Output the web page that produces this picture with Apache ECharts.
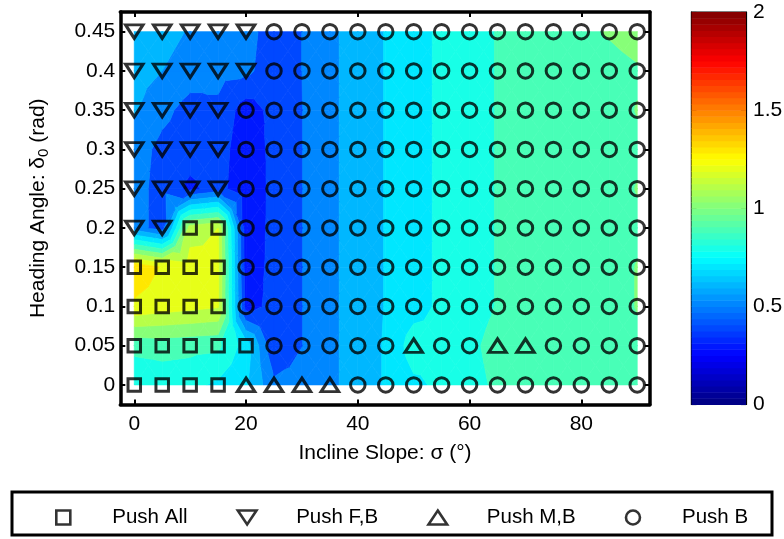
<!DOCTYPE html>
<html><head><meta charset="utf-8">
<script src="https://cdn.jsdelivr.net/npm/echarts@6/dist/echarts.min.js"></script>
<style>html,body{margin:0;padding:0;background:#fff}#c{width:784px;height:539px}</style>
</head><body><div id="c"></div>
<script>
// ---- data ----
const sigma = [0,5,10,15,20,25,30,35,40,45,50,55,60,65,70,75,80,85,90];
const delta = [0,0.05,0.1,0.15,0.2,0.25,0.3,0.35,0.4,0.45];
const xTicks = [0,20,40,60,80];
const yTicks = [0,0.05,0.1,0.15,0.2,0.25,0.3,0.35,0.4,0.45];
const cbarTicks = [0,0.5,1,1.5,2];

// surface value at each (sigma, delta) node, one array per delta row
const z_000 = [0.82,0.84,0.83,0.78,0.72,0.52,0.54,0.58,0.64,0.71,0.78,0.82,0.87,0.915,0.92,0.93,0.94,0.95,0.97];
const z_005 = [0.93,0.94,0.93,0.92,0.75,0.42,0.498,0.58,0.64,0.71,0.85,0.83,0.88,0.93,0.93,0.93,0.94,0.95,0.975];
const z_010 = [1.28,1.25,1.23,1.21,0.36,0.43,0.498,0.58,0.64,0.705,0.76,0.82,0.86,0.905,0.92,0.93,0.94,0.95,1.005];
const z_015 = [1.38,1.29,1.25,1.22,0.34,0.43,0.498,0.58,0.64,0.705,0.76,0.82,0.86,0.905,0.92,0.93,0.94,0.95,1.005];
const z_020 = [0.55,0.45,1.15,1.2,0.33,0.43,0.498,0.58,0.64,0.705,0.76,0.82,0.86,0.905,0.92,0.93,0.94,0.95,0.975];
const z_025 = [0.54,0.46,0.38,0.44,0.32,0.43,0.498,0.58,0.64,0.705,0.76,0.82,0.86,0.905,0.92,0.93,0.94,0.95,1.005];
const z_030 = [0.55,0.47,0.44,0.45,0.33,0.43,0.498,0.58,0.64,0.705,0.76,0.82,0.86,0.905,0.92,0.93,0.94,0.95,0.975];
const z_035 = [0.61,0.53,0.46,0.48,0.35,0.43,0.498,0.58,0.64,0.705,0.76,0.82,0.86,0.905,0.92,0.93,0.94,0.95,1.005];
const z_040 = [0.64,0.6,0.55,0.53,0.52,0.45,0.5,0.58,0.64,0.705,0.76,0.82,0.86,0.905,0.92,0.93,0.94,0.95,0.985];
const z_045 = [0.67,0.64,0.59,0.55,0.53,0.46,0.5,0.58,0.64,0.705,0.76,0.82,0.86,0.905,0.92,0.93,0.96,1.013,1.06];
const zRows = [z_000,z_005,z_010,z_015,z_020,z_025,z_030,z_035,z_040,z_045];

// strategy at each node: S = Push All, V = Push F,B, A = Push M,B, O = Push B
const m_000 = "SSSSAAAAOOOOOOOOOOO";
const m_005 = "SSSSSOOOOOAOOAAOOOO";
const m_010 = "SSSSOOOOOOOOOOOOOOO";
const m_015 = "SSSSOOOOOOOOOOOOOOO";
const m_020 = "VVSSOOOOOOOOOOOOOOO";
const m_025 = "VVVVOOOOOOOOOOOOOOO";
const m_030 = "VVVVOOOOOOOOOOOOOOO";
const m_035 = "VVVVOOOOOOOOOOOOOOO";
const m_040 = "VVVVVOOOOOOOOOOOOOO";
const m_045 = "VVVVVOOOOOOOOOOOOOO";
const markerRows = [m_000,m_005,m_010,m_015,m_020,m_025,m_030,m_035,m_040,m_045];

const strategyNames = {S:'Push All', V:'Push F,B', A:'Push M,B', O:'Push B'};
const levelStep = 0.1;
const cmin = 0, cmax = 2;

// ---- helpers ----
const FONT = 'Liberation Sans, Arial, Helvetica, sans-serif';
function jet(t){
  const c = v => Math.max(0, Math.min(1, v));
  const r = c(1.5 - Math.abs(4*t - 3)), g = c(1.5 - Math.abs(4*t - 2)), b = c(1.5 - Math.abs(4*t - 1));
  return 'rgb(' + Math.round(r*255) + ',' + Math.round(g*255) + ',' + Math.round(b*255) + ')';
}
function jet64(v){
  let idx = Math.floor((v - cmin)/(cmax - cmin)*64 + 1e-9);
  idx = Math.max(0, Math.min(63, idx));
  return jet((idx + 0.5)/64);
}
function clip(poly, level, above){
  const out = [];
  for (let i = 0; i < poly.length; i++){
    const a = poly[i], b = poly[(i+1) % poly.length];
    const ia = above ? a[2] >= level : a[2] <= level;
    const ib = above ? b[2] >= level : b[2] <= level;
    if (ia) out.push(a);
    if (ia !== ib){
      const t = (level - a[2])/(b[2] - a[2]);
      out.push([a[0] + t*(b[0]-a[0]), a[1] + t*(b[1]-a[1]), level]);
    }
  }
  return out;
}

// cells of the grid (corner values from zRows)
const cells = [];
for (let j = 0; j < delta.length - 1; j++){
  for (let i = 0; i < sigma.length - 1; i++){
    cells.push([sigma[i], delta[j], sigma[i+1], delta[j+1],
      zRows[j][i], zRows[j][i+1], zRows[j+1][i], zRows[j+1][i+1]]);
  }
}

function renderContour(params, api){
  const x0 = api.value(0), y0 = api.value(1), x1 = api.value(2), y1 = api.value(3);
  const v00 = api.value(4), v10 = api.value(5), v01 = api.value(6), v11 = api.value(7);
  const p00 = [x0,y0,v00], p10 = [x1,y0,v10], p01 = [x0,y1,v01], p11 = [x1,y1,v11];
  const pc = [(x0+x1)/2, (y0+y1)/2, (v00+v10+v01+v11)/4];
  const tris = [[p00,p10,pc],[p10,p11,pc],[p11,p01,pc],[p01,p00,pc]];
  const children = [];
  tris.forEach(tri => {
    const vs = tri.map(p => p[2]);
    const kmin = Math.floor(Math.min.apply(null, vs)/levelStep + 1e-9);
    const kmax = Math.floor(Math.max.apply(null, vs)/levelStep + 1e-9);
    for (let k = kmin; k <= kmax; k++){
      const L = k*levelStep;
      let poly = clip(tri, L, true);
      if (poly.length < 3) continue;
      poly = clip(poly, L + levelStep, false);
      if (poly.length < 3) continue;
      const col = jet64(L + 1e-6);
      children.push({type:'polygon', shape:{points: poly.map(p => api.coord([p[0], p[1]]))},
        style:{fill: col, stroke: col, lineWidth: 0.7}, silent:true});
    }
  });
  return {type:'group', children};
}

// colorbar steps
const cbarSteps = [];
for (let i = 0; i < 64; i++) cbarSteps.push([0, cmin + i*(cmax-cmin)/64, 1, cmin + (i+1)*(cmax-cmin)/64, i]);
function renderCbar(params, api){
  const a = api.coord([api.value(0), api.value(3)]);
  const b = api.coord([api.value(2), api.value(1)]);
  const col = jet((api.value(4) + 0.5)/64);
  return {type:'rect', shape:{x:a[0], y:a[1], width:b[0]-a[0], height:b[1]-a[1]+0.5},
    style:{fill: col, stroke: null}, silent:true};
}

// marker series data
const pts = {S:[], V:[], A:[], O:[]};
markerRows.forEach((row, j) => {
  for (let i = 0; i < row.length; i++) pts[row[i]].push([sigma[i], delta[j]]);
});
const hollow = {color:'rgba(0,0,0,0)', borderColor:'#000', borderWidth:3};

const tickStyle = {color:'#000', width:2};
const axisLineStyle = {color:'#000', width:3.5};
const labelStyle = {color:'#000', fontSize:21, fontFamily:FONT};
const squareIcon = 'path://M0,0L10,0L10,10L0,10Z';
const downTri = 'path://M0,0L20,0L10,15Z';
const upTri = 'path://M10,0L20,15L0,15Z';

const option = {
  animation:false,
  backgroundColor:'#fff',
  grid:[
    {left:120.3, top:12, width:529.5, height:392.5, show:false, outerBoundsMode:'none'},
    {left:691.5, top:12, width:54.5, height:392.5, show:true, borderColor:'#000', borderWidth:1.2, backgroundColor:'transparent', outerBoundsMode:'none'}
  ],
  xAxis:[
    {gridIndex:0, type:'value', min:-2.5, max:92.25, position:'bottom',
     axisLine:{show:true, onZero:false, lineStyle:axisLineStyle},
     axisTick:{show:true, inside:true, length:5, customValues:xTicks, lineStyle:tickStyle},
     axisLabel:{show:true, customValues:xTicks, margin:9, ...labelStyle},
     splitLine:{show:false},
     name:'Incline Slope: σ (°)', nameLocation:'middle', nameGap:38,
     nameTextStyle:{color:'#000', fontSize:21, fontFamily:FONT}},
    {gridIndex:0, type:'value', min:-2.5, max:92.25, position:'top',
     axisLine:{show:true, onZero:false, lineStyle:axisLineStyle},
     axisTick:{show:true, inside:true, length:5, customValues:xTicks, lineStyle:tickStyle},
     axisLabel:{show:false}, splitLine:{show:false}},
    {gridIndex:1, type:'value', min:0, max:1, show:false}
  ],
  yAxis:[
    {gridIndex:0, type:'value', min:-0.025, max:0.475, position:'left',
     axisLine:{show:true, onZero:false, lineStyle:axisLineStyle},
     axisTick:{show:true, inside:true, length:5, customValues:yTicks, lineStyle:tickStyle},
     axisLabel:{show:true, customValues:yTicks, margin:5, formatter: v => String(v), ...labelStyle},
     splitLine:{show:false},
     name:'{a|Heading Angle: δ}{sub|0}{a| (rad)}', nameLocation:'middle', nameGap:70, nameRotate:90,
     nameTextStyle:{color:'#000', fontSize:21, fontFamily:FONT,
       rich:{a:{fontSize:21, lineHeight:24, verticalAlign:'middle', color:'#000', fontFamily:FONT},
             sub:{fontSize:15, lineHeight:15, padding:[10,0,0,0], verticalAlign:'top', color:'#000', fontFamily:FONT}}}},
    {gridIndex:0, type:'value', min:-0.025, max:0.475, position:'right',
     axisLine:{show:true, onZero:false, lineStyle:axisLineStyle},
     axisTick:{show:true, inside:true, length:5, customValues:yTicks, lineStyle:tickStyle},
     axisLabel:{show:false}, splitLine:{show:false}},
    {gridIndex:1, type:'value', min:0, max:2, interval:0.5, position:'right',
     axisLine:{show:true, onZero:false, lineStyle:{color:'#000', width:1.2}},
     axisTick:{show:true, inside:true, length:5, lineStyle:{color:'#000', width:1.2}},
     axisLabel:{show:true, margin:7, formatter: v => String(v), ...labelStyle},
     splitLine:{show:false}},
    {gridIndex:1, type:'value', min:0, max:2, interval:0.5, position:'left',
     axisLine:{show:true, onZero:false, lineStyle:{color:'#000', width:1.2}},
     axisTick:{show:true, inside:true, length:5, lineStyle:{color:'#000', width:1.2}},
     axisLabel:{show:false}, splitLine:{show:false}}
  ],
  legend:{
    show:true, left:55, top:507, orient:'horizontal', padding:0, itemGap:49,
    itemWidth:20, itemHeight:14, selectedMode:false, symbolRotate:0,
    itemStyle:{color:'rgba(0,0,0,0)', borderColor:'#000', borderWidth:2.6},
    textStyle:{color:'#000', fontSize:20.5, fontFamily:FONT, padding:[0,0,0,34]},
    data:[
      {name:strategyNames.S, icon:squareIcon},
      {name:strategyNames.V, icon:downTri},
      {name:strategyNames.A, icon:upTri},
      {name:strategyNames.O, icon:'circle'}
    ]
  },
  graphic:[
    {type:'rect', shape:{x:12, y:492, width:760, height:43}, style:{fill:'none', stroke:'#000', lineWidth:3}, silent:true}
  ],
  series:[
    {type:'custom', name:'surface', xAxisIndex:0, yAxisIndex:0, renderItem:renderContour, data:cells, silent:true, z:1},
    {type:'custom', name:'colorbar', xAxisIndex:2, yAxisIndex:2, renderItem:renderCbar, data:cbarSteps, silent:true, z:1},
    {type:'scatter', name:strategyNames.S, xAxisIndex:0, yAxisIndex:0, symbol:'rect', symbolSize:12.5, itemStyle:hollow, data:pts.S, silent:true, z:5},
    {type:'scatter', name:strategyNames.V, xAxisIndex:0, yAxisIndex:0, symbol:'triangle', symbolRotate:180, symbolSize:[17.5,13.5], itemStyle:hollow, data:pts.V, silent:true, z:5},
    {type:'scatter', name:strategyNames.A, xAxisIndex:0, yAxisIndex:0, symbol:'triangle', symbolSize:[17.5,13.5], itemStyle:hollow, data:pts.A, silent:true, z:5},
    {type:'scatter', name:strategyNames.O, xAxisIndex:0, yAxisIndex:0, symbol:'circle', symbolSize:14.5, itemStyle:hollow, data:pts.O, silent:true, z:5}
  ]
};
const chart = echarts.init(document.getElementById('c'), null, {renderer:'canvas'});
chart.setOption(option);
</script></body></html>
